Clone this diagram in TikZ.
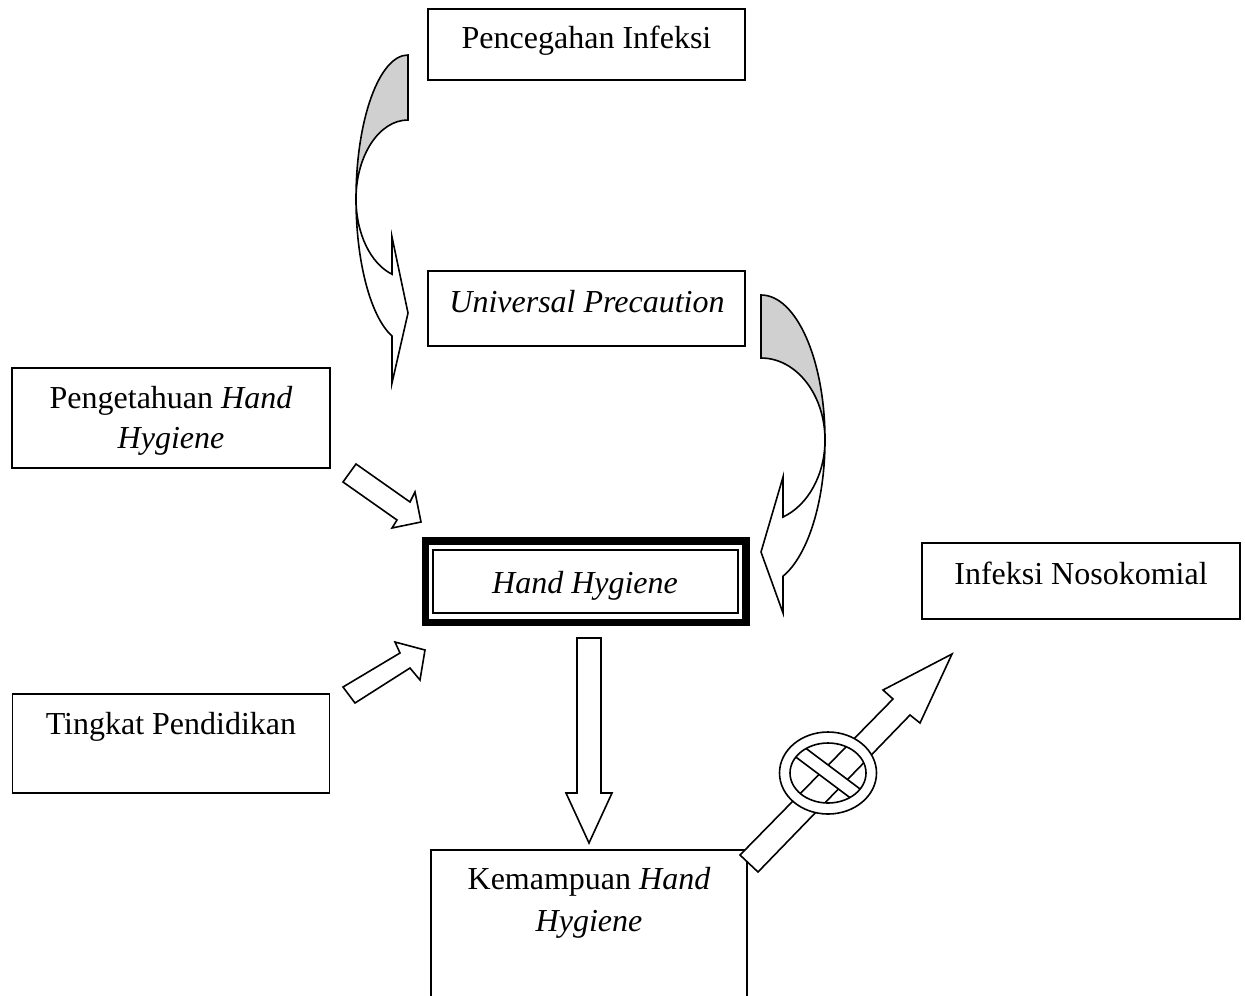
\documentclass[tikz,border=0pt]{standalone}
\usepackage{fontspec}
\setmainfont{Liberation Serif}
\definecolor{backgray}{RGB}{208,208,208}
\begin{document}
\begin{tikzpicture}[x=0.5pt,y=-0.5pt,
  box/.style={draw, line width=0.8pt, inner sep=0pt},
  txt/.style={anchor=base, inner sep=0pt, font=\fontsize{16}{20}\selectfont},
  blk/.style={draw, fill=white, line width=0.8pt, line join=miter},
  back/.style={draw, fill=backgray, line width=0.8pt, line join=miter},
]
\useasboundingbox[fill=white] (0,0) rectangle (1245,995);

% ---------- boxes ----------
\node[box, minimum width=158.5pt, minimum height=35.5pt] (pi) at (586.5,44.5) {};
\node[txt] (piT) at (586.5,49) {Pencegahan Infeksi};

\node[box, minimum width=158.5pt, minimum height=37.5pt] (up) at (586.5,308.5) {};
\node[txt] (upT) at (587,312) {\textit{Universal Precaution}};

\node[box, minimum width=159pt, minimum height=50pt] (ph) at (171,418) {};
\node[txt] (phT1) at (171,408) {Pengetahuan \textit{Hand}};
\node[txt] (phT2) at (171,448) {\textit{Hygiene}};

\node[box, minimum width=158.5pt, minimum height=49.5pt] (tp) at (171,743.5) {};
\node[txt] (tpT) at (171,734) {Tingkat Pendidikan};

\node[box, minimum width=159pt, minimum height=38pt] (in) at (1081,581) {};
\node[txt] (inT) at (1081,584) {Infeksi Nosokomial};

\node[draw, line width=3.6pt, inner sep=0pt, minimum width=160.25pt, minimum height=40.75pt] (hh) at (585.75,581.75) {};
\node[draw, line width=0.8pt, inner sep=0pt, minimum width=152.5pt, minimum height=31.5pt] (hhi) at (585.5,581.5) {};
\node[txt] (hhT) at (585,593) {\textit{Hand Hygiene}};

\coordinate (km) at (589,850);
\draw[line width=0.8pt] (431,1010) -- (431,850) -- (747,850) -- (747,1010);
\node[txt] (kmT1) at (589,889) {Kemampuan \textit{Hand}};
\node[txt] (kmT2) at (589,931) {\textit{Hygiene}};

% ---------- curved arrow 1 (Pencegahan -> Universal) ----------
\path[back] (408,55) -- (408,120)
  .. controls (379.3,120) and (356,155.4) .. (356,199)
  .. controls (356,119.5) and (379.3,55) .. (408,55) -- cycle;
\path[blk] (356,199)
  .. controls (356,261.5) and (370.5,316.8) .. (392,336)
  -- (392,383) -- (408,313) -- (392,237) -- (392,274.2)
  .. controls (370.5,263.7) and (356,233.3) .. (356,199) -- cycle;

% ---------- curved arrow 2 (Universal -> Hand Hygiene) ----------
\path[back] (761,295) -- (761,358)
  .. controls (796.3,358) and (825,394.7) .. (825,440)
  .. controls (825,359.9) and (796.3,295) .. (761,295) -- cycle;
\path[blk] (825,440)
  .. controls (825,500.8) and (808.2,555.3) .. (783,576.2)
  -- (783,613) -- (761,552) -- (783,477) -- (783,517)
  .. controls (808.2,505.2) and (825,474.4) .. (825,440) -- cycle;

% ---------- straight block arrows ----------
\path[blk] (356,464) -- (410,502) -- (415,492) -- (421,522) -- (392,528) -- (397,520) -- (343,482) -- cycle;
\path[blk] (343,687) -- (400,653) -- (395,642) -- (425,650) -- (420,680) -- (410,668) -- (355,703) -- cycle;
\path[blk] (577,638) -- (601,638) -- (601,793) -- (612,793) -- (589,843) -- (566,793) -- (577,793) -- cycle;

% ---------- diagonal arrow with prohibition sign ----------
\path[blk] (740,855) -- (893,699) -- (883,690) -- (952,654) -- (920,723) -- (910,715) -- (758,872) -- cycle;
\begin{scope}
  \clip (828,773) ellipse [x radius=19pt, y radius=15pt];
  \path[blk] (872.1,814.2) -- (879.9,803.8) -- (783.9,731.8) -- (776.1,742.2) -- cycle;
\end{scope}
\path[draw, fill=white, even odd rule, line width=0.8pt]
  (828,773) ellipse [x radius=24.25pt, y radius=20.5pt]
  (828,773) ellipse [x radius=19pt, y radius=15pt];
\end{tikzpicture}
\end{document}
